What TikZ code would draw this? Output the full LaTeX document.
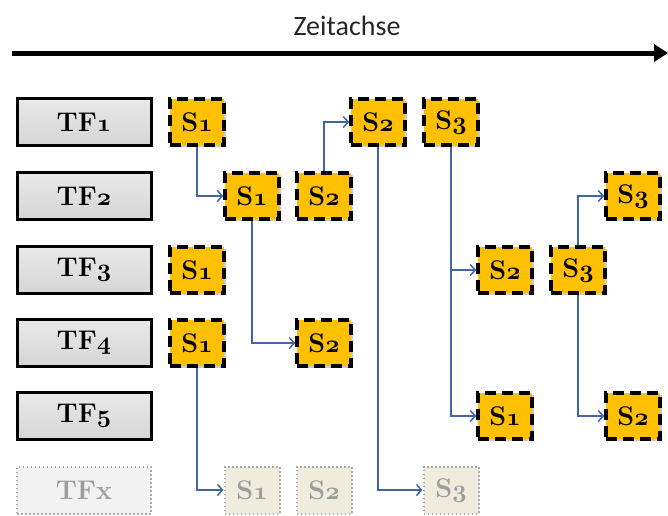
\documentclass[tikz,border=0pt]{standalone}
\usepackage{fontspec}
\newfontfamily\zeitfont{Carlito}
\usetikzlibrary{arrows.meta,shadows}
\definecolor{gold}{HTML}{FFC000}
\definecolor{tfgray}{HTML}{D6D6D6}
\definecolor{conblue}{HTML}{4165A5}
\definecolor{fadefill}{HTML}{EFECDD}
\definecolor{fadeline}{HTML}{A8A8A8}
\definecolor{fadetext}{HTML}{9C9C9C}
\definecolor{tfxfill}{HTML}{F2F2F2}
\tikzset{
  lbl/.style={font=\fontsize{27}{27}\selectfont\bfseries},
  shad/.style={drop shadow={shadow xshift=1.5pt,shadow yshift=-1.5pt,opacity=0.35,fill=black!60}},
  tfbox/.style={lbl,draw=black,line width=3pt,top color=tfgray!55,bottom color=tfgray,minimum width=134pt,minimum height=47pt,inner sep=0pt,shad},
  tfxbox/.style={lbl,draw=fadeline,line width=2pt,dash pattern=on 1.5pt off 2.5pt,fill=tfxfill,text=fadetext,minimum width=134pt,minimum height=47pt,inner sep=0pt},
  sbox/.style={lbl,draw=black,line width=3.5pt,dash pattern=on 11pt off 6pt,fill=gold,minimum width=54pt,minimum height=46pt,inner sep=0pt,shad},
  sfade/.style={lbl,draw=fadeline,line width=2pt,dash pattern=on 1.5pt off 2.5pt,fill=fadefill,text=fadetext,minimum width=55pt,minimum height=47pt,inner sep=0pt},
  conn/.style={draw=conblue,line width=1.5pt,-{Straight Barb[length=5pt,width=11pt]}},
  axis/.style={line width=5pt,-{Triangle[length=14pt,width=17pt]}}
}
\newcommand{\osn}[1]{{\fontencoding{OML}\fontfamily{cmm}\fontseries{b}\fontshape{it}\selectfont #1}}
\begin{document}
\begin{tikzpicture}[x=1pt,y=-1pt]
\useasboundingbox (0,0) rectangle (668,515);
% time axis
\coordinate (axs) at (12,53);
\coordinate (axe) at (668,53);
\draw[axis] (axs) -- (axe);
\node[font=\zeitfont\fontsize{28}{28}\selectfont,text=black!85] (zeit) at (347,26) {Zeitachse};
% TF boxes
\node[tfbox] (tf1) at (84,122) {TF\osn{1}};
\node[tfbox] (tf2) at (84,196) {TF\osn{2}};
\node[tfbox] (tf3) at (84,270) {TF\osn{3}};
\node[tfbox] (tf4) at (84,343) {TF\osn{4}};
\node[tfbox] (tf5) at (84,416) {TF\osn{5}};
\node[tfxbox] (tfx) at (84,490) {TFx};
% S boxes
\node[sbox] (r1s1) at (197,122) {S\osn{1}};
\node[sbox] (r1s2) at (378,122) {S\osn{2}};
\node[sbox] (r1s3) at (451,122) {S\osn{3}};
\node[sbox] (r2s1) at (252,196) {S\osn{1}};
\node[sbox] (r2s2) at (324,196) {S\osn{2}};
\node[sbox] (r2s3) at (633,196) {S\osn{3}};
\node[sbox] (r3s1) at (197,270) {S\osn{1}};
\node[sbox] (r3s2) at (505,270) {S\osn{2}};
\node[sbox] (r3s3) at (578,270) {S\osn{3}};
\node[sbox] (r4s1) at (197,343) {S\osn{1}};
\node[sbox] (r4s2) at (324,343) {S\osn{2}};
\node[sbox] (r5s1) at (505,416) {S\osn{1}};
\node[sbox] (r5s2) at (633,416) {S\osn{2}};
\node[sfade] (x1) at (252,490) {S\osn{1}};
\node[sfade] (x2) at (324,490) {S\osn{2}};
\node[sfade] (x3) at (451,490) {S\osn{3}};
% connectors
\draw[conn] (r1s1.south) |- (r2s1.west);
\draw[conn] (r2s2.north) |- (r1s2.west);
\draw[conn] (r2s1.south) |- (r4s2.west);
\draw[conn] (r1s2.south) |- (x3.west);
\draw[conn] (r1s3.south) |- (r3s2.west);
\draw[conn] (r1s3.south) |- (r5s1.west);
\draw[conn] (r3s3.north) |- (r2s3.west);
\draw[conn] (r3s3.south) |- (r5s2.west);
\draw[conn] (r4s1.south) |- (x1.west);
\end{tikzpicture}
\end{document}
